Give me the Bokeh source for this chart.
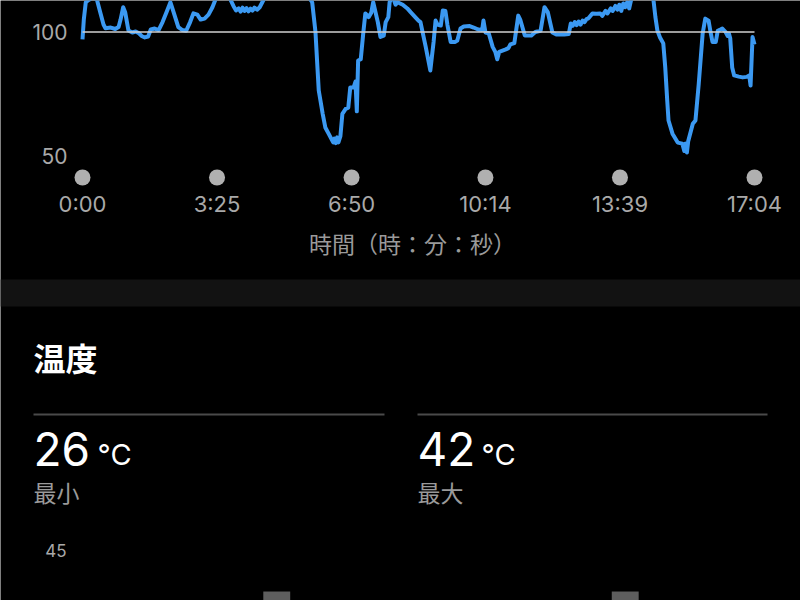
from bokeh.plotting import figure
from bokeh.models import Range1d
from bokeh.core.properties import value
from bokeh.embed import file_html
from bokeh.resources import INLINE

# ---------------- data ----------------
time_s = [0, 2, 5, 10, 16, 22, 27, 32, 35, 43, 50, 55, 58, 62, 65, 70, 76, 81, 86, 90,
          95, 100, 104, 110, 116, 122, 128, 134, 140, 146, 152, 158, 164, 169, 175, 180,
          186, 192, 198, 204, 212, 222, 230, 234, 238, 241, 244, 247, 250, 253, 256, 259,
          262, 266, 270, 274, 280, 300, 320, 340, 350, 355, 358, 360, 366, 370, 375, 379,
          382, 384, 386, 388, 390, 393, 396, 401, 405, 408, 413, 416, 418, 420, 424, 428,
          431, 436, 440, 443, 450, 454, 459, 462, 466, 468, 472, 477, 480, 488, 495, 500,
          507, 512, 515, 523, 530, 535, 538, 541, 546, 549, 553, 556, 561, 568, 571, 576,
          581, 590, 596, 603, 609, 611, 614, 619, 625, 629, 632, 635, 640, 645, 649, 652,
          658, 664, 667, 674, 684, 690, 698, 704, 709, 716, 722, 734, 741, 744, 747, 750,
          753, 756, 759, 762, 765, 768, 771, 777, 783, 789, 792, 797, 800, 805, 808, 812,
          815, 818, 821, 824, 827, 830, 833, 836, 845, 860, 870, 873, 876, 880, 885, 888,
          891, 893, 899, 907, 914, 917, 919, 921, 923, 930, 934, 939, 945, 949, 954, 957,
          960, 965, 968, 972, 975, 980, 983, 985, 987, 990, 993, 1000, 1006, 1012, 1016,
          1018, 1021, 1024]
cadence = [97, 105, 112, 113, 114, 113, 108, 103, 101.5, 101.8, 101.2, 102, 105, 110, 108,
           100.6, 99.8, 100.2, 99.5, 98.4, 97.8, 98.2, 101, 101.4, 100.8, 104, 108, 112, 107,
           102, 100.8, 100.5, 104, 107.5, 107, 105, 105.4, 107, 110, 114, 116, 115, 110.5,
           108.7, 109.5, 108.2, 109.8, 108.5, 109.6, 108.3, 109.4, 108.6, 109.8, 109, 110,
           112, 115, 117, 118, 116, 112, 100, 85.7, 76.4, 67, 61.5, 59, 57, 55.5, 57, 55.2,
           57.5, 55.5, 58, 67, 69, 69.5, 77.6, 77.6, 80, 68, 88.5, 89, 100, 107.5, 106,
           107.8, 112, 104, 98, 98.5, 104, 106, 112, 115, 111, 112, 111, 109.5, 108, 106,
           104.6, 104, 94, 84.5, 96, 104.6, 103, 102.6, 108.7, 108.5, 103, 96, 96, 96.5,
           101.4, 102.2, 102.4, 101.8, 101, 100.8, 104.6, 99.8, 99.5, 94, 92, 89, 92, 92.5,
           93, 93.5, 95, 95.5, 106.6, 105, 98.6, 98.6, 100, 100.5, 110, 108, 99.8, 99, 99,
           99.2, 103.4, 102.5, 104, 102.8, 104.2, 103, 104.6, 104, 105.2, 105.5, 107.5,
           107.4, 107.5, 106.5, 108.5, 107.5, 109.5, 108.5, 110.5, 109, 111, 108.5, 111.5,
           110, 112, 109.5, 113, 116, 117, 113, 106, 100.6, 97.8, 95.4, 85.7, 72.4, 64.3,
           59, 55.4, 55, 52, 55, 51.4, 56, 63, 64.3, 79, 99.4, 105.4, 104.6, 100, 96, 96,
           100.5, 101, 101.4, 100, 98.4, 99.4, 97.5, 85.7, 82.5, 82, 81.7, 81.9, 82.5, 78.4,
           98, 95]
avg_cadence = 100
cadence_ticks = [50, 100]
tick_seconds = [0, 205, 410, 614, 819, 1024]
tick_labels = ["0:00", "3:25", "6:50", "10:14", "13:39", "17:04"]
x_axis_title = "時間（時：分：秒）"

section_title = "温度"
temp_values = ["26", "42"]
temp_unit = "°C"
stat_labels = ["最小", "最大"]
temp_ticks = [45]
temp_marker_times = [296, 827]
temp_marker_tops = [42.07, 42.07]

# ---------------- layout / style (pixel geometry) ----------------
W, H = 800, 600
BG = "black"
BLUE = "#3b99f2"
TICK_GRAY = "#a9a9a9"
LATIN = "Inter"
CJK = "Noto Sans CJK JP"

# cadence chart geometry: t=0 at x=82, t=end at x=754; 100 at y=31.5, 2.48 px per unit
X0, X1 = 82, 754
T_END = tick_seconds[-1]
sx = (X1 - X0) / T_END
CAD_REF, CAD_Y, CAD_PX = 100, 31.5, 2.48
# temperature chart geometry: 45 at y=550, 14 px per degree
TMP_REF, TMP_Y, TMP_PX = 45, 550, 14.0

p = figure(width=W, height=H, output_backend="svg", toolbar_location=None,
           x_range=Range1d(0, W), y_range=Range1d(H, 0),
           x_axis_type=None, y_axis_type=None, min_border=0,
           background_fill_color=BG, border_fill_color=BG, outline_line_color=None)
p.grid.visible = False
p.extra_x_ranges = {"time": Range1d(-X0 / sx, (W - X0) / sx)}
p.extra_y_ranges = {
    "cad": Range1d(CAD_REF - (H - CAD_Y) / CAD_PX, CAD_REF + CAD_Y / CAD_PX),
    "temp": Range1d(TMP_REF - (H - TMP_Y) / TMP_PX, TMP_REF + TMP_Y / TMP_PX),
}

# ---- cadence chart ----
p.line(time_s, cadence, x_range_name="time", y_range_name="cad",
       line_color=BLUE, line_width=4, line_join="round")
p.segment(x0=[time_s[0]], x1=[time_s[-1]], y0=[avg_cadence], y1=[avg_cadence],
          x_range_name="time", y_range_name="cad",
          line_color="#d0d0d0", line_width=1.5)
p.text(x=[67] * len(cadence_ticks), y=cadence_ticks, text=[str(v) for v in cadence_ticks],
       y_range_name="cad", text_font=value(LATIN), text_font_size="21px",
       text_color=TICK_GRAY, text_align="right", text_baseline="middle")
p.scatter(tick_seconds, [177] * len(tick_seconds), x_range_name="time", size=16,
          fill_color="#b0b0b0", line_color=None)
p.text(x=tick_seconds, y=[203] * len(tick_seconds), text=tick_labels, x_range_name="time",
       text_font=value(LATIN), text_font_size="22px", text_color=TICK_GRAY,
       text_align="center", text_baseline="middle")
p.text(x=[412], y=[242], text=[x_axis_title], text_font=value(CJK),
       text_font_size="23px", text_color="#9a9a9a",
       text_align="center", text_baseline="middle")

# ---- divider band ----
p.quad(left=[0], right=[W], top=[279], bottom=[306], fill_color="#121212", line_color=None)

# ---- temperature summary ----
p.text(x=[33], y=[356], text=[section_title], text_font=value(CJK),
       text_font_size="32px", text_font_style="bold", text_color="white",
       text_baseline="middle", text_align="left")
p.segment(x0=[33, 417], x1=[384, 767], y0=[414, 414], y1=[414, 414],
          line_color="#4a4a4a", line_width=2)
p.text(x=[33, 417], y=[448, 448], text=temp_values, text_font=value(LATIN),
       text_font_size="46px", text_color="white",
       text_baseline="middle", text_align="left")
p.text(x=[97, 481], y=[454, 454], text=[temp_unit, temp_unit], text_font=value(LATIN),
       text_font_size="29px", text_color="white",
       text_baseline="middle", text_align="left")
p.text(x=[33, 417], y=[491, 491], text=stat_labels, text_font=value(CJK),
       text_font_size="23px", text_color="#9a9a9a",
       text_baseline="middle", text_align="left")

# ---- temperature chart (cut off at the bottom) ----
p.text(x=[66], y=temp_ticks, text=[str(v) for v in temp_ticks], y_range_name="temp",
       text_font=value(LATIN), text_font_size="17px", text_color=TICK_GRAY,
       text_align="right", text_baseline="middle")
p.vbar(x=temp_marker_times, width=41, top=temp_marker_tops, bottom=40,
       x_range_name="time", y_range_name="temp",
       fill_color="#5e5e5e", line_color=None)

open("out.html", "w").write(file_html(p, INLINE))
